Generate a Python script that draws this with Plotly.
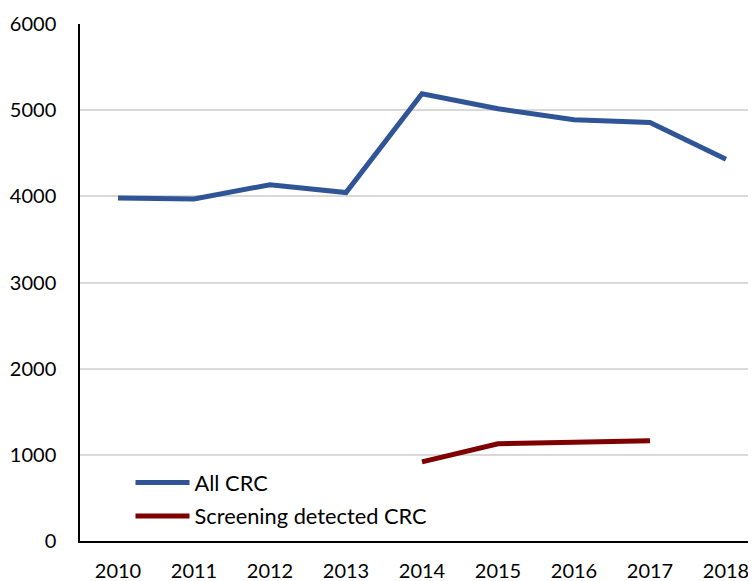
import plotly.graph_objects as go

years = ["2010", "2011", "2012", "2013", "2014", "2015", "2016", "2017", "2018"]
all_crc = [3981, 3970, 4135, 4044, 5191, 5017, 4889, 4858, 4429]
screen_years = ["2014", "2015", "2016", "2017"]
screen_crc = [918, 1129, 1147, 1164]

fig = go.Figure()
fig.add_trace(go.Scatter(x=years, y=all_crc, mode="lines", name="All CRC",
                         legendgroup="a",
                         line=dict(color="#2F5597", width=5)))
fig.add_trace(go.Scatter(x=screen_years, y=screen_crc, mode="lines", name="Screening detected CRC",
                         legendgroup="b",
                         line=dict(color="#7F0000", width=5)))

font = dict(family="Lato, Carlito, Calibri, sans-serif", size=20, color="#000000")
legend_font = dict(family="Lato, Carlito, Calibri, sans-serif", size=21.8, color="#000000")
fig.update_layout(
    width=748, height=573,
    margin=dict(l=72, r=0, t=16, b=40),
    paper_bgcolor="white", plot_bgcolor="white",
    font=font,
    showlegend=True,
    legend=dict(x=0.0747, y=0.153, xanchor="left", yanchor="top",
                bgcolor="rgba(0,0,0,0)", font=legend_font, itemwidth=54,
                tracegroupgap=2),
    xaxis=dict(type="category", categoryorder="array", categoryarray=years,
               range=[-0.5, 8.395], showgrid=False, showline=True,
               linecolor="#000000", linewidth=1.5, ticks="", tickfont=font,
               ticklabelstandoff=11, automargin=False),
    yaxis=dict(range=[0, 6000], tickvals=[0, 1000, 2000, 3000, 4000, 5000, 6000],
               showgrid=True, gridcolor="#D9D9D9", gridwidth=1.5,
               showline=True, linecolor="#000000", linewidth=1.5,
               ticks="", tickfont=font, ticklabelstandoff=18, zeroline=False,
               automargin=False),
)
fig.write_html("out.html")
